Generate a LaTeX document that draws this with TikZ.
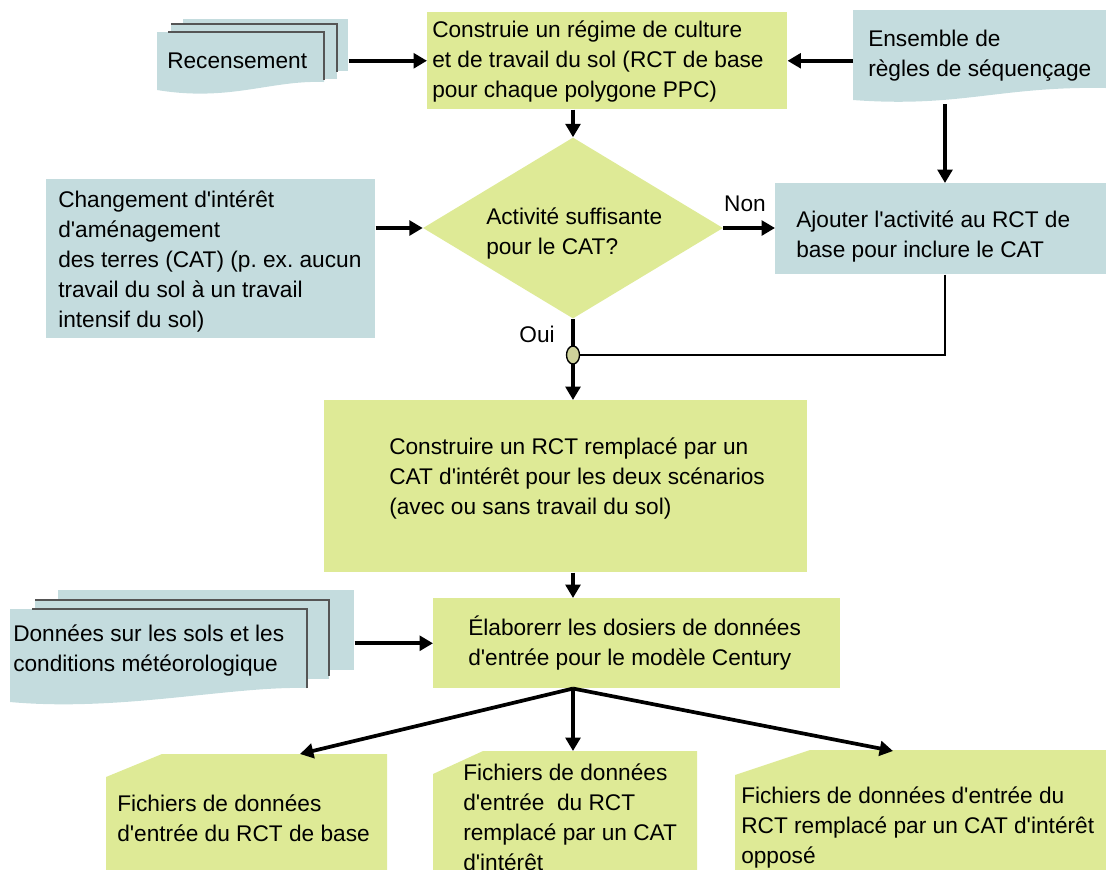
\documentclass[tikz,border=0pt]{standalone}
\usepackage{fontspec}
\newfontfamily\plainsans{Liberation Sans}
\usetikzlibrary{arrows.meta,shapes.geometric}
\definecolor{leaf}{HTML}{DEEA96}
\definecolor{mist}{HTML}{C4DCDE}
\definecolor{rimgray}{HTML}{555555}
\definecolor{knot}{HTML}{CED29A}
\frenchspacing
\begin{document}
\begin{tikzpicture}[x=0.75pt, y=-0.75pt,
  every node/.style={font=\plainsans\fontsize{17}{22.5}\selectfont},
  txt/.style={anchor=west, align=left, inner sep=0pt},
  box/.style={rectangle, inner sep=0pt, anchor=north west},
  flow/.style={line width=2.8pt, -{Triangle[length=10pt,width=11pt]}},
  link/.style={line width=1.4pt},
  rim/.style={draw=rimgray, line width=1pt}]
\useasboundingbox (0,0) rectangle (1106,869);
\clip (0,0) rectangle (1106,869);

% --- stacked census documents
\fill[mist] (183,19) rectangle (348,71);
\fill[mist] (171,24) rectangle (337,79);
\draw[rim] (171,24) -- (337,24) -- (337,72);
\fill[mist] (157,32) -- (324,32) -- (324,82) .. controls (270,80) and (230,102) .. (157,90) -- cycle;
\draw[rim] (168,32) -- (324,32) -- (324,80);
\node[box, minimum width=143.25pt, minimum height=58.5pt] (rec) at (157,19) {};
\node[txt] at (167,61) {Recensement};

% --- sequencing rules document
\fill[mist] (853,10) -- (1106,10) -- (1106,88) .. controls (1000,86) and (960,108) .. (853,100) -- cycle;
\node[box, minimum width=189.75pt, minimum height=71.25pt] (ens) at (853,10) {};
\node[txt] at (868,56) {Ensemble de\\règles de séquençage};
\coordinate (ensfoot) at (945,104);

% --- base rotation
\node[box, fill=leaf, minimum width=270pt, minimum height=72.75pt] (top) at (427,12) {};
\node[txt] at (432,61) {Construie un régime de culture\\et de travail du sol (RCT de base\\pour chaque polygone PPC)};

% --- decision
\node[diamond, fill=leaf, inner sep=0pt, minimum width=225pt, minimum height=135.75pt] (dia) at (573,228) {};
\node[txt] at (486,233) {Activité suffisante\\pour le CAT?};

% --- land management change
\node[box, fill=mist, minimum width=246.75pt, minimum height=119.25pt] (cat) at (46,179) {};
\node[txt] at (58,261) {Changement d'intérêt\\d'aménagement\\des terres (CAT) (p. ex. aucun\\travail du sol à un travail\\intensif du sol)};

% --- add activity
\node[box, fill=mist, minimum width=248.25pt, minimum height=68.25pt] (aj) at (775,183) {};
\node[txt] at (796,236) {Ajouter l'activité au RCT de\\base pour inclure le CAT};

% --- replaced rotation
\node[box, fill=leaf, minimum width=362.25pt, minimum height=129pt] (big) at (324,400) {};
\node[txt] at (389,478) {Construire un RCT remplacé par un\\CAT d'intérêt pour les deux scénarios\\(avec ou sans travail du sol)};

% --- input files
\node[box, fill=leaf, minimum width=305.25pt, minimum height=67.5pt] (ela) at (433,598) {};
\node[txt] at (468,643) {Élaborerr les dosiers de données\\d'entrée pour le modèle Century};

% --- soil and weather documents
\fill[mist] (58,590) rectangle (354,670);
\fill[mist] (35,600) rectangle (329,679);
\draw[rim] (35,600) -- (329,600) -- (329,676);
\fill[mist] (10,609) -- (307,609) -- (307,688) .. controls (230,686) and (120,712) .. (10,702) -- cycle;
\draw[rim] (32,609) -- (307,609) -- (307,688);
\node[box, minimum width=258pt, minimum height=88.5pt] (don) at (10,590) {};
\node[txt] at (13,650) {Données sur les sols et les\\conditions météorologique};

% --- output files
\fill[leaf] (106,777) -- (162,754) -- (387,754) -- (387,880) -- (106,880) -- cycle;
\fill[leaf] (433,774) -- (483,751) -- (697,751) -- (697,880) -- (433,880) -- cycle;
\fill[leaf] (735,775) -- (810,750) -- (1110,750) -- (1110,880) -- (735,880) -- cycle;
\coordinate (f1) at (300,754);
\coordinate (f2) at (573,751);
\coordinate (f3) at (893,751);
\node[txt] at (117,818) {Fichiers de données\\d'entrée du RCT de base};
\node[txt] at (463,817) {Fichiers de données\\d'entrée\ \ du RCT\\remplacé par un CAT\\d'intérêt};
\node[txt] at (741,827) {Fichiers de données d'entrée du\\RCT remplacé par un CAT d'intérêt\\opposé};

% --- connectors
\draw[flow] (rec.east |- top.west) -- (top.west);
\draw[flow] (ens.west |- top.east) -- (top.east);
\draw[flow] (top.south -| dia.north) -- (dia.north);
\draw[flow] (cat.east |- dia.west) -- (dia.west);
\draw[flow] (dia.east) -- (aj.west |- dia.east);
\node (non) at (745,204) {Non};
\draw[flow] (ensfoot) -- (ensfoot |- aj.north);
\draw[flow] (dia.south) -- (dia.south |- big.north);
\node (oui) at (537,334) {Oui};
\node[ellipse, draw, line width=1pt, fill=knot, inner sep=0pt, minimum width=9.75pt, minimum height=13.5pt] (jn) at (573,355) {};
\draw[link] (ensfoot |- aj.south) |- (jn.east);
\draw[flow] (big.south -| dia.south) -- (ela.north -| dia.south);
\draw[flow] (don.east |- ela.west) -- (ela.west);
\coordinate (fork) at (ela.south -| dia.south);
\draw[flow] (fork) -- (f1);
\draw[flow] (fork) -- (f2);
\draw[flow] (fork) -- (f3);
\end{tikzpicture}
\end{document}
